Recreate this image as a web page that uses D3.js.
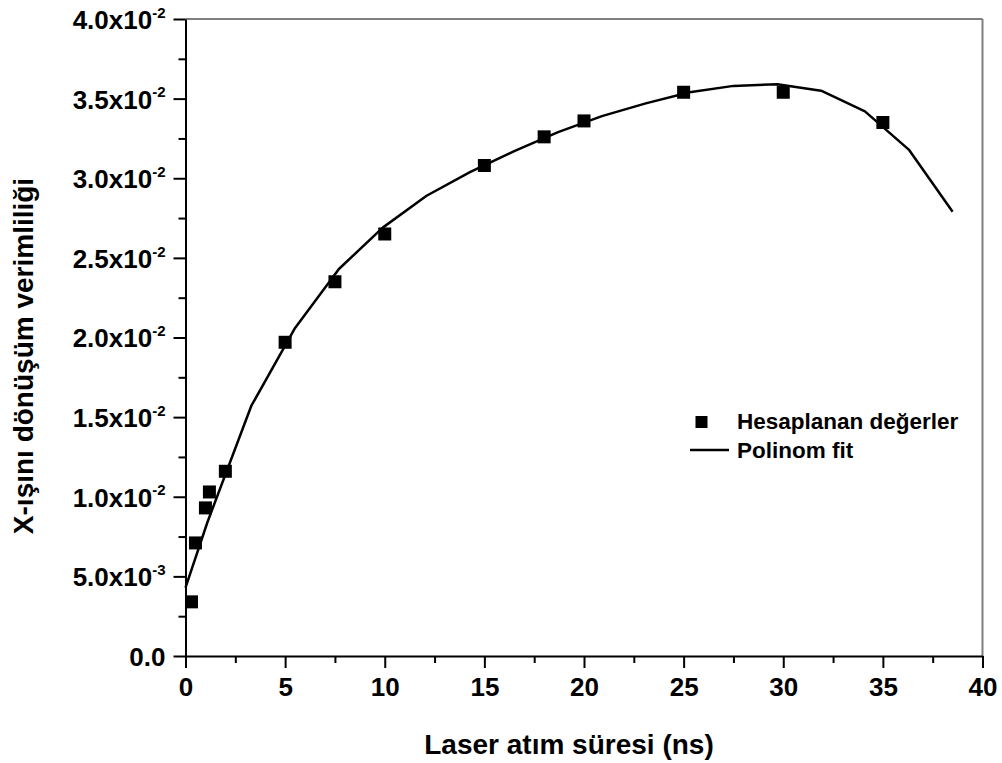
<!DOCTYPE html>
<html>
<head>
<meta charset="utf-8">
<script src="https://cdn.jsdelivr.net/npm/d3@7/dist/d3.min.js"></script>
<style>
  html, body { margin: 0; padding: 0; background: #fff; }
  svg { display: block; }
  text { font-family: "Liberation Sans", Arial, Helvetica, sans-serif; font-weight: bold; fill: #000; }
</style>
</head>
<body>
<svg id="chart" width="1002" height="763"></svg>
<script>
// ---- data ----
const pointX = [0.3, 0.5, 1.0, 1.2, 2.0, 5, 7.5, 10, 15, 18, 20, 25, 30, 35];
const pointY = [0.0034, 0.0071, 0.0093, 0.0103, 0.0116, 0.0197, 0.0235, 0.0265, 0.0308, 0.0326, 0.0336, 0.0354, 0.0354, 0.0335];

const fitX = [0, 1.1, 3.3, 5.5, 7.7, 9.9, 12.1, 14.3, 16.5, 18.7, 20.9, 23.1, 25.3, 27.5, 29.7, 31.9, 34.1, 36.3, 38.5];
const fitY = [0.0043, 0.0084, 0.0157, 0.0206, 0.0243, 0.0269, 0.0289, 0.0304, 0.0317, 0.0329, 0.0339, 0.0347, 0.0354, 0.0358, 0.0359, 0.0355, 0.0342, 0.0318, 0.0279];

const xTicks = [0, 5, 10, 15, 20, 25, 30, 35, 40];
const xTickLabels = ["0", "5", "10", "15", "20", "25", "30", "35", "40"];
const yTicks = [0, 0.005, 0.010, 0.015, 0.020, 0.025, 0.030, 0.035, 0.040];
const yTickMantissa = ["0.0", "5.0x10", "1.0x10", "1.5x10", "2.0x10", "2.5x10", "3.0x10", "3.5x10", "4.0x10"];
const yTickExponent = ["", "-3", "-2", "-2", "-2", "-2", "-2", "-2", "-2"];

const legendLabels = ["Hesaplanan değerler", "Polinom fit"];
const xTitle = "Laser atım süresi (ns)";
const yTitle = "X-ışını dönüşüm verimliliği";

// ---- layout ----
const svg = d3.select("#chart");
const pLeft = 185.5, pRight = 982.5, pTop = 19, pBottom = 656;

const x = d3.scaleLinear().domain([0, 40]).range([pLeft, pRight]);
const y = d3.scaleLinear().domain([0, 0.04]).range([pBottom, pTop]);

// frame (top and right, gray)
svg.append("line").attr("x1", pLeft).attr("x2", pRight).attr("y1", pTop).attr("y2", pTop)
  .attr("stroke", "#7f7f7f").attr("stroke-width", 2);
svg.append("line").attr("x1", pRight).attr("x2", pRight).attr("y1", pTop).attr("y2", pBottom)
  .attr("stroke", "#7f7f7f").attr("stroke-width", 2);

// minor ticks
const xMinor = d3.range(2.5, 40, 5);
const yMinor = d3.range(0.0025, 0.04, 0.005);

const gx = svg.append("g").attr("transform", `translate(0,${pBottom})`);
gx.call(d3.axisBottom(x).tickValues(xMinor).tickSize(7).tickSizeOuter(0).tickFormat(""));
gx.call(g => g.selectAll(".domain").remove());
const gx2 = svg.append("g").attr("transform", `translate(0,${pBottom})`)
  .call(d3.axisBottom(x).tickValues(xTicks).tickSize(12).tickSizeOuter(0).tickPadding(8)
    .tickFormat((d, i) => xTickLabels[i]));
gx2.selectAll("text").attr("font-size", 26).attr("dy", "0.76em");

const gy = svg.append("g").attr("transform", `translate(${pLeft},0)`);
gy.call(d3.axisLeft(y).tickValues(yMinor).tickSize(7).tickSizeOuter(0).tickFormat(""));
gy.call(g => g.selectAll(".domain").remove());
const gy2 = svg.append("g").attr("transform", `translate(${pLeft},0)`)
  .call(d3.axisLeft(y).tickValues(yTicks).tickSize(12).tickSizeOuter(0).tickFormat(""));

[gx, gx2, gy, gy2].forEach(g => {
  g.selectAll("line").attr("stroke", "#000").attr("stroke-width", 2);
  g.selectAll(".domain").attr("stroke", "#000").attr("stroke-width", 2);
  g.attr("font-family", null);
});

// y tick labels with superscripts
gy2.selectAll(".tick").each(function(d, i) {
  const t = d3.select(this).append("text")
    .attr("x", -20).attr("dy", "0.36em")
    .attr("text-anchor", "end").attr("font-size", 26);
  t.append("tspan").text(yTickMantissa[i]);
  if (yTickExponent[i]) {
    t.append("tspan").attr("font-size", 15).attr("dy", "-0.75em").text(yTickExponent[i]);
  }
});

// fit line
const line = d3.line().x(i => x(fitX[i])).y(i => y(fitY[i]));
svg.append("path").attr("d", line(d3.range(fitX.length)))
  .attr("fill", "none").attr("stroke", "#000").attr("stroke-width", 2.5)
  .attr("stroke-linejoin", "round");

// points
const ms = 13;
svg.append("g").selectAll("rect").data(d3.range(pointX.length)).join("rect")
  .attr("x", i => x(pointX[i]) - ms / 2).attr("y", i => y(pointY[i]) - ms / 2)
  .attr("width", ms).attr("height", ms).attr("fill", "#000");

// legend
svg.append("rect").attr("x", 695.5).attr("y", 416).attr("width", 12).attr("height", 12).attr("fill", "#000");
svg.append("text").attr("x", 737).attr("y", 429).attr("font-size", 22.5).text(legendLabels[0]);
svg.append("line").attr("x1", 690).attr("x2", 729).attr("y1", 450).attr("y2", 450)
  .attr("stroke", "#000").attr("stroke-width", 2.5);
svg.append("text").attr("x", 737).attr("y", 458).attr("font-size", 22.5).text(legendLabels[1]);

// axis titles
svg.append("text").attr("x", 569).attr("y", 754).attr("text-anchor", "middle")
  .attr("font-size", 28).text(xTitle);
svg.append("text").attr("transform", "translate(33,356) rotate(-90)")
  .attr("text-anchor", "middle").attr("font-size", 28).text(yTitle);
</script>
</body>
</html>
